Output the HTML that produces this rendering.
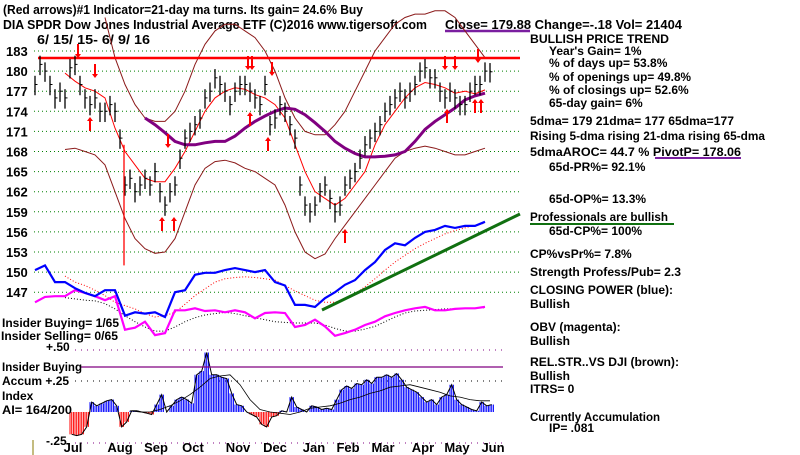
<!DOCTYPE html>
<html><head><meta charset="utf-8"><style>
body{margin:0;background:#fff;}
svg{display:block;font-family:"Liberation Sans",sans-serif;font-weight:bold;}
</style></head><body>
<svg id="c" width="800" height="455" viewBox="0 0 800 455">
<g fill="#000">
<text x="3" y="14" font-size="12.5" textLength="360" lengthAdjust="spacingAndGlyphs">(Red arrows)#1 Indicator=21-day ma turns. Its gain= 24.6% Buy</text>
<text x="3" y="29" font-size="12.5" textLength="424" lengthAdjust="spacingAndGlyphs">DIA   SPDR Dow Jones Industrial Average ETF  (C)2016 www.tigersoft.com</text>
<text x="445" y="29" font-size="13" textLength="237" lengthAdjust="spacingAndGlyphs">Close=  179.88  Change=-.18 Vol= 21404</text>
<text x="37" y="44" font-size="13" textLength="113" lengthAdjust="spacingAndGlyphs">6/ 15/ 15- 6/ 9/ 16</text>
</g>
<line x1="445" y1="31" x2="530" y2="31" stroke="#7a1fa0" stroke-width="2.5"/>
<g id="grid"></g><g id="ylab" font-size="13"></g>
<g id="marks"></g>
<g font-size="12" fill="#000">
<text x="530" y="43" textLength="139" lengthAdjust="spacingAndGlyphs">BULLISH PRICE TREND</text>
<text x="549" y="55">Year's Gain= 1%</text>
<text x="549" y="67">% of days up= 53.8%</text>
<text x="549" y="81" textLength="142" lengthAdjust="spacingAndGlyphs">% of openings up= 49.8%</text>
<text x="549" y="94">% of closings up= 52.6%</text>
<text x="549" y="107">65-day gain= 6%</text>
<text x="530" y="125" textLength="204" lengthAdjust="spacingAndGlyphs">5dma= 179 21dma= 177 65dma=177</text>
<text x="530" y="140" textLength="235" lengthAdjust="spacingAndGlyphs">Rising 5-dma  rising 21-dma  rising 65-dma</text>
<text x="530" y="156" textLength="211" lengthAdjust="spacingAndGlyphs">5dmaAROC= 44.7 %  PivotP= 178.06</text>
<text x="549" y="171">65d-PR%= 92.1%</text>
<text x="549" y="203">65d-OP%= 13.3%</text>
<text x="530" y="221" textLength="138" lengthAdjust="spacingAndGlyphs">Professionals are bullish</text>
<text x="549" y="235">65d-CP%= 100%</text>
<text x="530" y="258">CP%vsPr%=  7.8%</text>
<text x="530" y="276" textLength="151" lengthAdjust="spacingAndGlyphs">Strength Profess/Pub= 2.3</text>
<text x="530" y="294" textLength="143" lengthAdjust="spacingAndGlyphs">CLOSING POWER (blue):</text>
<text x="530" y="308">Bullish</text>
<text x="530" y="331">OBV (magenta):</text>
<text x="530" y="345">Bullish</text>
<text x="530" y="366" textLength="149" lengthAdjust="spacingAndGlyphs">REL.STR..VS DJI (brown):</text>
<text x="530" y="380">Bullish</text>
<text x="530" y="393">ITRS= 0</text>
<text x="530" y="421" textLength="130" lengthAdjust="spacingAndGlyphs">Currently Accumulation</text>
<text x="549" y="432">IP=  .081</text>
</g>
<line x1="655" y1="158" x2="741" y2="158" stroke="#7a1fa0" stroke-width="2"/>
<line x1="530" y1="224" x2="674" y2="224" stroke="#107010" stroke-width="2"/>
<g font-size="12" fill="#000">
<text x="2" y="327" textLength="117" lengthAdjust="spacingAndGlyphs">Insider Buying= 1/65</text>
<text x="1" y="340" textLength="117" lengthAdjust="spacingAndGlyphs">Insider Selling= 0/65</text>
<text x="46" y="351">+.50</text>
<text x="2" y="371" textLength="80" lengthAdjust="spacingAndGlyphs">Insider Buying</text>
<text x="2" y="385">Accum  +.25</text>
<text x="2" y="400">Index</text>
<text x="2" y="414" textLength="70" lengthAdjust="spacingAndGlyphs">AI= 164/200</text>
<text x="46" y="445">-.25</text>
</g>
<line x1="33" y1="440" x2="33" y2="455" stroke="#8a7a00" stroke-width="1"/>
<g id="xlab" font-size="13"></g>
</svg>
<script>
const ns="http://www.w3.org/2000/svg";
const months=["Jul","Aug","Sep","Oct","Nov","Dec","Jan","Feb","Mar","Apr","May","Jun"];
const monthX=[73,120,156,193,238,275,314,348,383,423,457,493];
const priceTicks=[183,180,177,174,171,168,165,162,159,156,153,150,147];
// closes, one every 5px from x=35
const closes=[178,181,180,178,176,177,176,180.5,181,178,176,175,176,174,174,175,174,170,163,164,162,163,164,163,165,162,160,162,163,167,170,171,172,173,176,177,179,178,177,175,177,178,178,177,176,175,178,172,173,175,174,172,170,163,160,159,160,162,163,161,159,160,163,164,165,167,169,170,171,172,174,175,176,177,176,177,178,180,180.5,179,179,177,176,177,176,175,175,177,178,178,180,179.9];
// series every 10px from x=35
const upperBand=[null,null,null,null,null,null,null,188,182,178,175,173,172.5,172.5,174,177,181,184,186,187,187,186,185,183,180,176,173,171,170.5,170.5,172,174,177,180,183,185,187,188,188.5,188.5,189,189,188,186,184,182];
const lowerBand=[null,null,null,168.3,168.5,168,167.5,166,162,158,155,153.5,152.8,153,155,159,163,165.5,166.5,166.7,166.3,165.5,165,164,163,160,156,153,152,152.7,155,157,159,161,163,165,167,168,168.5,168.8,168.5,168,167.5,167.5,168,168.5];
const ma21=[null,null,null,179.7,178.5,177.5,177,176,171.5,168,166,164,163.5,163.5,165.5,168,171,174,176,177,177.5,177.3,176.5,176,175,173,169,165,162,161,160,161,163,165,169,172,174,176,177.5,178.3,178,177.5,176.7,177,176.6,177.2];
const ma65=[null,null,null,null,null,null,null,null,null,null,null,173,172,170.8,169.5,169,169,169.3,169.5,169.5,170.3,171.5,172.5,173.3,174,174.5,174.3,173.5,172.3,171,169.5,168.5,167.7,167.2,167.2,167.3,167.5,168,169.5,171.3,172.5,173.5,174.5,175.7,176.3,176.7];
const closingPower=[150.3,151,148.5,148.5,147.6,146.9,146.4,147.3,147.3,143.5,144,143.8,144,143.3,147,147.3,149.6,149.9,149.9,150.3,150.6,150.3,150,150.3,148.5,148,145.1,145.1,144.8,146.1,147,148.1,148.8,150.3,151.5,153.3,154.3,154,155.1,156,156.3,156.9,156.6,156.9,156.9,157.5];
const cpMA=[null,null,null,149.4,148.5,148,147.3,146.5,145.5,145,144.5,143.8,143.3,143.5,144,145.2,146.5,147.5,148.5,149,149.2,149.3,149.2,149,148.8,148,147.2,146.5,145.8,145.5,145.5,146,146.8,147.8,149,150.3,151.5,152.5,153.5,154.3,155,155.7,156.2,156.6,157,157.3];
const obv=[145.5,146.3,146.4,146.4,147.3,146.9,146.4,145.8,146.4,141.4,141.7,142.6,140.6,140.9,144.3,144.3,144.6,144.2,144.3,144,144.3,144,143.1,143.9,144,143.9,141.8,142.1,142.9,141.9,140.5,140.9,141.4,142.1,142.6,143.4,143.9,144.3,144.6,144.8,144.3,144.3,144.5,144.6,144.6,144.8];
const obvMA=[null,null,null,146.2,146,145.8,145.7,145.3,144.5,143.5,142.6,141.8,141.2,141.2,141.8,142.6,143.2,143.6,143.8,144,143.8,143.5,143.2,142.9,142.6,142.5,142.4,142.4,142.4,142.1,141.6,141.2,141.2,141.5,141.9,142.6,143.3,143.9,144.2,144.3,144.4,144.5,144.5,144.6,144.6,144.7];
// accumulation index, every 5px from x=70
const accum=[-0.18,-0.19,-0.18,-0.12,0.08,0.05,0.07,0.09,0.10,0.05,-0.12,-0.08,0.01,0.01,0.0,-0.01,-0.02,0.06,0.14,0.0,0.05,0.10,0.12,0.10,0.07,0.30,0.33,0.48,0.30,0.30,0.28,0.27,0.15,0.06,0.05,0.0,-0.02,-0.04,-0.10,-0.12,-0.04,-0.03,0.01,0.0,0.12,0.04,0.02,0.0,0.05,0.04,0.02,0.03,0.02,0.10,0.18,0.21,0.19,0.23,0.22,0.26,0.23,0.28,0.28,0.30,0.28,0.31,0.26,0.20,0.18,0.16,0.12,0.08,0.10,0.06,0.12,0.14,0.22,0.10,0.06,0.04,0.02,0.01,0.08,0.05,0.06];
// accum MA every 10px from x=130
const accumMA=[0.01,0.0,0.0,0.02,0.05,0.09,0.14,0.2,0.27,0.29,0.3,0.22,0.1,0.02,0.0,-0.01,-0.02,0.0,0.03,0.04,0.05,0.07,0.1,0.12,0.15,0.17,0.2,0.21,0.22,0.2,0.18,0.16,0.13,0.12,0.1,0.09,0.09];
const downArrows=[[78,50],[95,70],[248,62],[252,62],[272,68],[168,140],[445,62],[455,62],[478,55]];
const upArrows=[[90,125],[162,225],[174,225],[250,120],[268,145],[345,237],[447,117],[475,107],[481,107]];

const yP=p=>51+(183-p)*6.7;
const xD=i=>35+i*5;
const xS=i=>35+i*10;
const yA=v=>412-v*124;
function el(tag,attrs,parent){const e=document.createElementNS(ns,tag);for(const k in attrs)e.setAttribute(k,attrs[k]);parent.appendChild(e);return e;}
const grid=document.getElementById('grid'),ylab=document.getElementById('ylab'),marks=document.getElementById('marks'),xlab=document.getElementById('xlab');
priceTicks.forEach(t=>{
  const g=el('line',{x1:34,x2:520,y1:yP(t),y2:yP(t),stroke:'#008000','stroke-dasharray':'1,3'},grid);
  
  
  const tx=el('text',{x:6,y:yP(t)+5},ylab);tx.textContent=t;
  
  
});
[[0.5,'#800080'],[0.25,'#000'],[-0.25,'#800080']].forEach(([v,c])=>{
  el('line',{x1:75,x2:505,y1:yA(v),y2:yA(v),stroke:c,'stroke-dasharray':'1,5'},grid);
});
months.forEach((m,i)=>{const t=el('text',{x:monthX[i],y:452,'text-anchor':'middle'},xlab);t.textContent=m;
  
  });
function poly(arr,xf,yf,attrs,name){let d='';arr.forEach((v,i)=>{if(v==null)return;d+=(d?'L':'M')+xf(i).toFixed(1)+','+yf(v).toFixed(1);});
  const p=el('path',Object.assign({d:d,fill:'none'},attrs),marks);
  
  return p;}
accum.forEach((v,i)=>{const x=70+i*5;const col=v>=0?'#0000ff':'#ff0000';
  for(let k=0;k<3;k++){const l=el('line',{x1:x+k*1.7,x2:x+k*1.7,y1:yA(0),y2:yA(v),stroke:col,'stroke-width':1},marks);
  
  }});
poly(accum,i=>71.7+i*5,yA,{stroke:'#000','stroke-width':1},'accum-outline');
poly(accumMA,i=>130+i*10,yA,{stroke:'#000','stroke-width':0.8},'accum-ma');
el('line',{x1:80,x2:503,y1:367,y2:367,stroke:'#800080','stroke-width':1.3},marks);
poly(upperBand,xS,yP,{stroke:'#8b1a1a','stroke-width':1},'upper-band');
poly(lowerBand,xS,yP,{stroke:'#8b1a1a','stroke-width':1},'lower-band');
poly(ma21,xS,yP,{stroke:'#ff0000','stroke-width':1},'ma-21');
poly(ma65,xS,yP,{stroke:'#800080','stroke-width':3},'ma-65');
poly(cpMA,xS,yP,{stroke:'#ff0000','stroke-width':1,'stroke-dasharray':'1,2'},'cp-ma');
poly(obvMA,xS,yP,{stroke:'#000','stroke-width':1,'stroke-dasharray':'1,2'},'obv-ma');
poly(obv,xS,yP,{stroke:'#ff00ff','stroke-width':2.2},'obv-line');
poly(closingPower,xS,yP,{stroke:'#0000ff','stroke-width':2.2},'closing-power');
el('line',{x1:38,x2:520,y1:58,y2:58,stroke:'#ff0000','stroke-width':2.5},marks);
el('line',{x1:322,x2:520,y1:310,y2:214,stroke:'#107010','stroke-width':3},marks);
closes.forEach((c,i)=>{const x=xD(i);
  const b=el('line',{x1:x,x2:x,y1:yP(c+1.3),y2:yP(c-1.6),stroke:'#000','stroke-width':1.3},marks);
  
  
  el('line',{x1:x,x2:x+2.5,y1:yP(c),y2:yP(c),stroke:'#000'},marks);});
el('line',{x1:124,x2:124,y1:yP(169),y2:yP(151),stroke:'#ff0000','stroke-width':1.3},marks);
function arrow(x,y,up){const s=up?1:-1;
  const g=el('g',{},marks);
  
  
  el('line',{x1:x,x2:x,y1:y-5*s,y2:y+6*s,stroke:'#ff0000','stroke-width':2},g);
  el('path',{d:`M${x-3},${y-4*s}L${x},${y-8*s}L${x+3},${y-4*s}Z`,fill:'#ff0000'},g);}
downArrows.forEach(a=>arrow(a[0],a[1],false));
upArrows.forEach(a=>arrow(a[0],a[1],true));
</script>
</body></html>
